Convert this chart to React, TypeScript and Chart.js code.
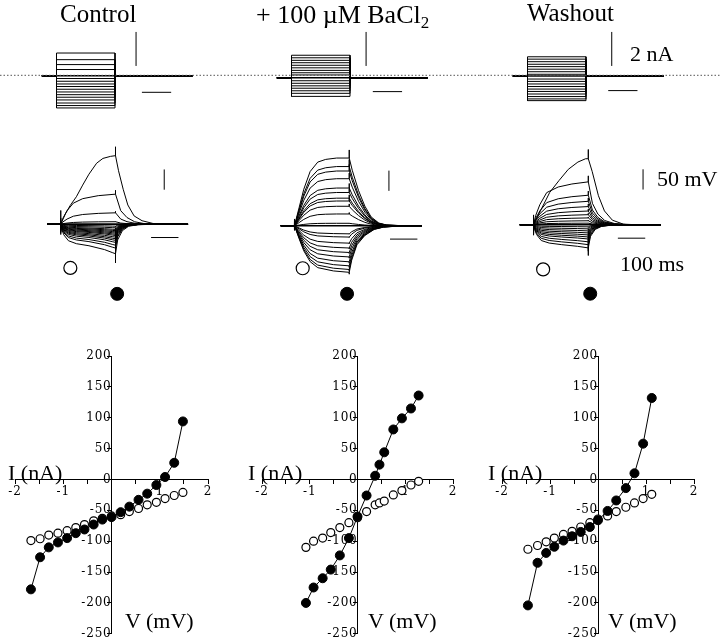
import React, { useEffect, useRef } from 'react';
import { Chart, registerables } from 'chart.js';
Chart.register(...registerables);

// ---------------- I-V data (V in mV axis units, I in nA) ----------------
const ctrlV = [-1.67, -1.48, -1.3, -1.11, -0.92, -0.74, -0.56, -0.37, -0.19, 0, 0.19, 0.37, 0.56, 0.74, 0.93, 1.11, 1.3, 1.48];
const ctrlFilled = [-178, -126, -110, -102, -95, -87, -81, -73, -65, -61, -53, -44, -33, -23, -9, 4, 27, 94];
const ctrlOpen = [-99, -96, -90, -87, -83, -78, -73, -67, -63, -59, -57, -52, -47, -41, -37, -31, -26, -21];

const baV = [-1.08, -0.92, -0.73, -0.56, -0.37, -0.18, 0, 0.19, 0.37, 0.46, 0.56, 0.75, 0.93, 1.12, 1.28];
const baFilled = [-200, -175, -160, -146, -123, -95, -60, -26, 6, 24, 44, 81, 99, 115, 136];
const baOpen = [-110, -100, -95, -86, -78, -70, -62, -52, -41, -38, -35, -25, -18, -9, -3];

const washV = [-1.46, -1.26, -1.08, -0.91, -0.72, -0.54, -0.36, -0.17, 0, 0.2, 0.38, 0.58, 0.76, 0.94, 1.12];
const washFilled = [-204, -135, -119, -109, -99, -92, -85, -77, -66, -51, -34, -14, 10, 58, 132];
const washOpen = [-113, -107, -101, -95, -89, -84, -77, -70, -64, -59, -52, -45, -38, -31, -24];

const vTicks = [-2, -1, 1, 2];

// ---------------- current steps (nA) ----------------
const ctrlSteps = [1.31, 0.92, 0.63, 0.34, -0.19, -0.35, -0.51, -0.66, -0.82, -0.98, -1.14, -1.29, -1.45, -1.63, -1.78, -1.92];
const baSteps = [1.18, 1.03, 0.88, 0.74, 0.59, 0.44, 0.29, 0.15, 0.02, -0.32, -0.47, -0.62, -0.76, -0.91, -1.06, -1.24];
const washSteps = [1.09, 0.95, 0.8, 0.65, 0.51, 0.36, 0.21, 0.06, -0.22, -0.36, -0.51, -0.66, -0.81, -0.95, -1.1, -1.25, -1.39, -1.49];
const holdCurrent = [-0.03, -0.15, -0.04];

// ---------------- voltage responses (mV at end of pulse) ----------------
const ctrlLevels = [169, 74, 28, 6, -5, -9, -13, -16, -19, -22, -25, -28, -32, -36, -40, -45, -52, -59, -73];
const baLevels = [167, 146, 135, 116, 93, 82, 68, 61, 48, 29, 6, -20, -28, -43, -55, -66, -77, -89, -99, -108, -115];
const washLevels = [163, 106, 73, 58, 45, 34, 25, 17, 10, 4, -5, -10, -15, -20, -25, -30, -35, -42, -49, -57];

// time courses: [ms, fraction of end-of-pulse level]
const ctrlBigOn = [[0, 0], [17, 0.15], [34, 0.27], [57, 0.4], [80, 0.57], [103, 0.73], [131, 0.89], [154, 0.96], [182, 0.99], [200, 1]];
const ctrlBigOff = [[0, 1], [11, 0.78], [28, 0.51], [45, 0.28], [68, 0.12], [97, 0.05], [137, 0.01], [200, 0]];
const ctrlDepOn = [[0, 0], [8, 0.2], [23, 0.45], [46, 0.7], [80, 0.85], [137, 0.95], [200, 1]];
const ctrlDepOff = [[0, 1], [19, 0.45], [42, 0.22], [70, 0.08], [104, 0.02], [160, 0]];
const ctrlHypOn = [[0, 0], [4, 0.18], [11, 0.36], [28, 0.56], [57, 0.66], [103, 0.73], [160, 0.86], [188, 0.96], [200, 1]];
const ctrlHypOff = [[0, 1], [8, 0.53], [25, 0.22], [48, 0.07], [82, 0.02], [150, 0]];

const baDepOn = [[0, 0], [17, 0.27], [34, 0.54], [57, 0.8], [85, 0.94], [114, 0.98], [154, 1], [200, 1]];
const baDepOff = [[0, 1], [11, 0.82], [34, 0.52], [57, 0.29], [80, 0.13], [108, 0.04], [137, 0.01], [200, 0]];
const baHypOn = [[0, 0], [17, 0.28], [34, 0.54], [57, 0.77], [85, 0.9], [142, 0.97], [200, 1]];
const baHypOff = [[0, 1], [9, 0.74], [28, 0.41], [57, 0.21], [91, 0.08], [125, 0.03], [200, 0]];

const washBigOn = [[0, 0], [25, 0.21], [59, 0.49], [93, 0.67], [127, 0.84], [162, 0.95], [190, 1], [200, 1]];
const washBigOff = [[0, 1], [14, 0.81], [37, 0.44], [59, 0.21], [88, 0.07], [128, 0.01], [180, 0]];
const washDepOn = [[0, 0], [8, 0.22], [23, 0.47], [48, 0.75], [90, 0.88], [140, 0.95], [200, 1]];
const washDepOff = [[0, 1], [15, 0.5], [35, 0.25], [60, 0.1], [95, 0.03], [150, 0]];
const washHypOn = [[0, 0], [4, 0.2], [11, 0.42], [28, 0.68], [57, 0.79], [103, 0.86], [160, 0.93], [200, 1]];
const washHypOff = [[0, 1], [8, 0.5], [25, 0.2], [48, 0.07], [82, 0.02], [150, 0]];

// stimulation artifacts (fraction of level)
const startArtDep = [0.2, 0.1, 0.15];
const startArtHyp = [0.35, 0.1, 0.45];
const endArtDep = [0.13, 0.12, 0.14];
const endArtHyp = [0.31, 0.04, 0.33];

const pulseMs = 200;
const traceStart = -50;
const traceEnd = 465;

// scale bars
const currentBar = 2; // nA
const voltageBar = 50; // mV
const timeBar = 100; // ms
const titles = ['Control', '+ 100 \u00b5M BaCl', 'Washout'];

// ---------------- layout constants ----------------
const S = 0.2925; // px per ms
const colLeft = [0, 240, 480];
const topPulseX = [56.5, 291.5, 527.5];
const midPulseX = [56.7, 290, 529];
const topRow = { top: 25, height: 95, zeroY: 75.3, pxPerUnit: 17 };
const midRow = { top: 125, height: 195, pxPerUnit: 0.44 };
const midZeroY = [224.3, 226, 225];
const topBarV = [272, 255, 288];
const topBarH = [292, 278, 276];
const topBarHy = [-1.0, -0.96, -0.9];
const midBarV = [378, 345, 400];
const midBarVy = [85, 86, 87];
const midBarH = [330, 349, 308];
const midBarHy = -33;
const markOpen = [[35, -108], [30, -105], [35, -110]];
const markFilled = [[206, -172], [192, -168], [207, -170]];

const line = (pts: number[][], extra: any = {}) => ({
  data: pts.map(([x, y]) => ({ x, y })),
  borderColor: '#000',
  borderWidth: 1,
  pointRadius: 0,
  fill: false,
  tension: 0,
  ...extra,
});

function voltageTrace(level: number, on: number[][], off: number[][], sArt: number, eArt: number) {
  const pts: number[][] = [[traceStart, 0], [0, 0], [0, level * sArt], [0, 0]];
  on.forEach(([t, f]) => pts.push([t, level * f]));
  pts.push([pulseMs, level * (1 + eArt)]);
  pts.push([pulseMs, level]);
  off.forEach(([t, f]) => pts.push([pulseMs + t, level * f]));
  pts.push([traceEnd, 0]);
  return pts;
}

function currentTrace(step: number, hold: number) {
  return [[traceStart, hold], [0, hold], [0, step], [pulseMs, step], [pulseMs, hold], [traceEnd, hold]];
}

const baseOptions = (xmin: number, xmax: number, ymin: number, ymax: number) => ({
  animation: false,
  responsive: false,
  events: [],
  layout: { padding: 0 },
  plugins: { legend: { display: false }, tooltip: { enabled: false } },
  scales: {
    x: { type: 'linear', min: xmin, max: xmax, display: false },
    y: { type: 'linear', min: ymin, max: ymax, display: false },
  },
});

function topConfig(c: number) {
  const steps = [ctrlSteps, baSteps, washSteps][c];
  const hold = holdCurrent[c];
  const xmin = (colLeft[c] - topPulseX[c]) / S;
  const xmax = (colLeft[c] + 240 - topPulseX[c]) / S;
  const ymax = (topRow.zeroY - topRow.top) / topRow.pxPerUnit;
  const ymin = -(topRow.top + topRow.height - topRow.zeroY) / topRow.pxPerUnit;
  const ds: any[] = [];
  ds.push(line([[xmin, 0], [xmax, 0]], { borderDash: [1.5, 2], borderColor: '#555' }));
  steps.forEach((s) => ds.push(line(currentTrace(s, hold))));
  ds.push(line(currentTrace(hold, hold), { borderWidth: 1.5 }));
  ds.push(line([[topBarV[c], 0.55], [topBarV[c], 0.55 + currentBar]]));
  ds.push(line([[topBarH[c], topBarHy[c]], [topBarH[c] + timeBar, topBarHy[c]]]));
  return { type: 'line', data: { datasets: ds }, options: baseOptions(xmin, xmax, ymin, ymax) };
}

function midConfig(c: number) {
  const levels = [ctrlLevels, baLevels, washLevels][c];
  const bigOn = [ctrlBigOn, baDepOn, washBigOn][c];
  const bigOff = [ctrlBigOff, baDepOff, washBigOff][c];
  const depOn = [ctrlDepOn, baDepOn, washDepOn][c];
  const depOff = [ctrlDepOff, baDepOff, washDepOff][c];
  const hypOn = [ctrlHypOn, baHypOn, washHypOn][c];
  const hypOff = [ctrlHypOff, baHypOff, washHypOff][c];
  const xmin = (colLeft[c] - midPulseX[c]) / S;
  const xmax = (colLeft[c] + 240 - midPulseX[c]) / S;
  const ymax = (midZeroY[c] - midRow.top) / midRow.pxPerUnit;
  const ymin = -(midRow.top + midRow.height - midZeroY[c]) / midRow.pxPerUnit;
  const ds: any[] = [];
  levels.forEach((L, i) => {
    if (L >= 0) {
      const big = i === 0 && c !== 1;
      ds.push(line(voltageTrace(L, big ? bigOn : depOn, big ? bigOff : depOff, startArtDep[c], endArtDep[c])));
    } else {
      ds.push(line(voltageTrace(L, hypOn, hypOff, startArtHyp[c], endArtHyp[c])));
    }
  });
  ds.push(line([[traceStart, 0], [traceEnd, 0]], { borderWidth: 1.6 }));
  ds.push(line([[midBarV[c], midBarVy[c]], [midBarV[c], midBarVy[c] + voltageBar]]));
  ds.push(line([[midBarH[c], midBarHy], [midBarH[c] + timeBar, midBarHy]]));
  ds.push({
    data: [{ x: markOpen[c][0], y: markOpen[c][1] }],
    showLine: false, pointRadius: 6.5, pointBackgroundColor: '#fff', pointBorderColor: '#000', pointBorderWidth: 1.2,
  });
  ds.push({
    data: [{ x: markFilled[c][0], y: markFilled[c][1] }],
    showLine: false, pointRadius: 6.5, pointBackgroundColor: '#000', pointBorderColor: '#000', pointBorderWidth: 1,
  });
  return { type: 'line', data: { datasets: ds }, options: baseOptions(xmin, xmax, ymin, ymax) };
}

const tickFont = { family: '"DejaVu Serif", serif', size: 12 };

// widen tick lettering a little, like the reference's stretched tick labels
const spacingPlugin = {
  id: 'tickSpacing',
  beforeDraw(chart: any) { chart.ctx.letterSpacing = '0.8px'; },
  afterDraw(chart: any) { chart.ctx.letterSpacing = '0px'; },
};

function ivConfig(V: number[], filled: number[], open: number[]) {
  return {
    type: 'line',
    data: {
      datasets: [
        {
          data: V.map((v, i) => ({ x: v, y: filled[i] })),
          borderColor: '#000', borderWidth: 1, tension: 0,
          pointRadius: 4.5, pointBackgroundColor: '#000', pointBorderColor: '#000', showLine: true,
        },
        {
          data: V.map((v, i) => ({ x: v, y: open[i] })),
          showLine: false, pointRadius: 4, pointBackgroundColor: '#fff', pointBorderColor: '#000', pointBorderWidth: 1.2,
        },
      ],
    },
    plugins: [spacingPlugin],
    options: {
      animation: false,
      responsive: false,
      events: [],
      layout: { padding: { left: 15, right: 15, top: 12, bottom: 8 } },
      plugins: { legend: { display: false }, tooltip: { enabled: false } },
      scales: {
        x: {
          type: 'linear', min: -2, max: 2, position: { y: 0 },
          grid: { display: true, drawOnChartArea: false, drawTicks: true, tickLength: 4, color: '#000' },
          border: { display: true, color: '#000', width: 1 },
          ticks: {
            stepSize: 0.5, autoSkip: false, maxRotation: 0, color: '#000', font: tickFont, padding: 1,
            callback: (v: number) => (vTicks.includes(v) ? String(v) : ''),
          },
        },
        y: {
          type: 'linear', min: -250, max: 200, position: { x: 0 },
          grid: { display: true, drawOnChartArea: false, drawTicks: true, tickLength: 4, color: '#000' },
          border: { display: true, color: '#000', width: 1 },
          ticks: { stepSize: 50, autoSkip: false, color: '#000', font: tickFont, padding: 2 },
        },
      },
    },
  };
}

function ChartBox({ left, top, width, height, make }: any) {
  const ref = useRef<HTMLCanvasElement>(null);
  useEffect(() => {
    const chart = new Chart(ref.current as HTMLCanvasElement, make());
    return () => chart.destroy();
  }, []);
  return (
    <canvas ref={ref} width={width} height={height}
      style={{ position: 'absolute', left, top, width, height }} />
  );
}

const txt = (left: number, top: number, size: number, content: any) => (
  <div style={{ position: 'absolute', left, top, fontSize: size, lineHeight: '1', whiteSpace: 'nowrap', color: '#000' }}>
    {content}
  </div>
);

export default function App() {
  const ivLeft = [0, 247, 487];
  const ivWidth = [223, 221, 222];
  return (
    <div style={{
      position: 'fixed', left: 0, top: 0, width: 720, height: 641, background: '#fff', overflow: 'hidden',
      fontFamily: '"Liberation Serif", "Times New Roman", serif',
    }}>
      {[0, 1, 2].map((c) => (
        <ChartBox key={'t' + c} left={colLeft[c]} top={topRow.top} width={240} height={topRow.height} make={() => topConfig(c)} />
      ))}
      {[0, 1, 2].map((c) => (
        <ChartBox key={'m' + c} left={colLeft[c]} top={midRow.top} width={240} height={midRow.height} make={() => midConfig(c)} />
      ))}
      <ChartBox left={ivLeft[0]} top={344} width={ivWidth[0]} height={299} make={() => ivConfig(ctrlV, ctrlFilled, ctrlOpen)} />
      <ChartBox left={ivLeft[1]} top={344} width={ivWidth[1]} height={299} make={() => ivConfig(baV, baFilled, baOpen)} />
      <ChartBox left={ivLeft[2]} top={344} width={ivWidth[2]} height={299} make={() => ivConfig(washV, washFilled, washOpen)} />

      {txt(60, 0.8, 25, titles[0])}
      {txt(256, 1.6, 26, <span>{titles[1]}<sub style={{ fontSize: 17, verticalAlign: '-5px' }}>2</sub></span>)}
      {txt(527, 0, 25, titles[2])}
      {txt(630, 43.3, 22, '2 nA')}
      {txt(657, 168.3, 22, '50 mV')}
      {txt(620, 253.3, 22, '100 ms')}
      {[8, 248, 488].map((x, i) => <React.Fragment key={'i' + i}>{txt(x, 461.6, 22, 'I (nA)')}</React.Fragment>)}
      {[125, 368, 608].map((x, i) => <React.Fragment key={'v' + i}>{txt(x, 610, 22, 'V (mV)')}</React.Fragment>)}
    </div>
  );
}
